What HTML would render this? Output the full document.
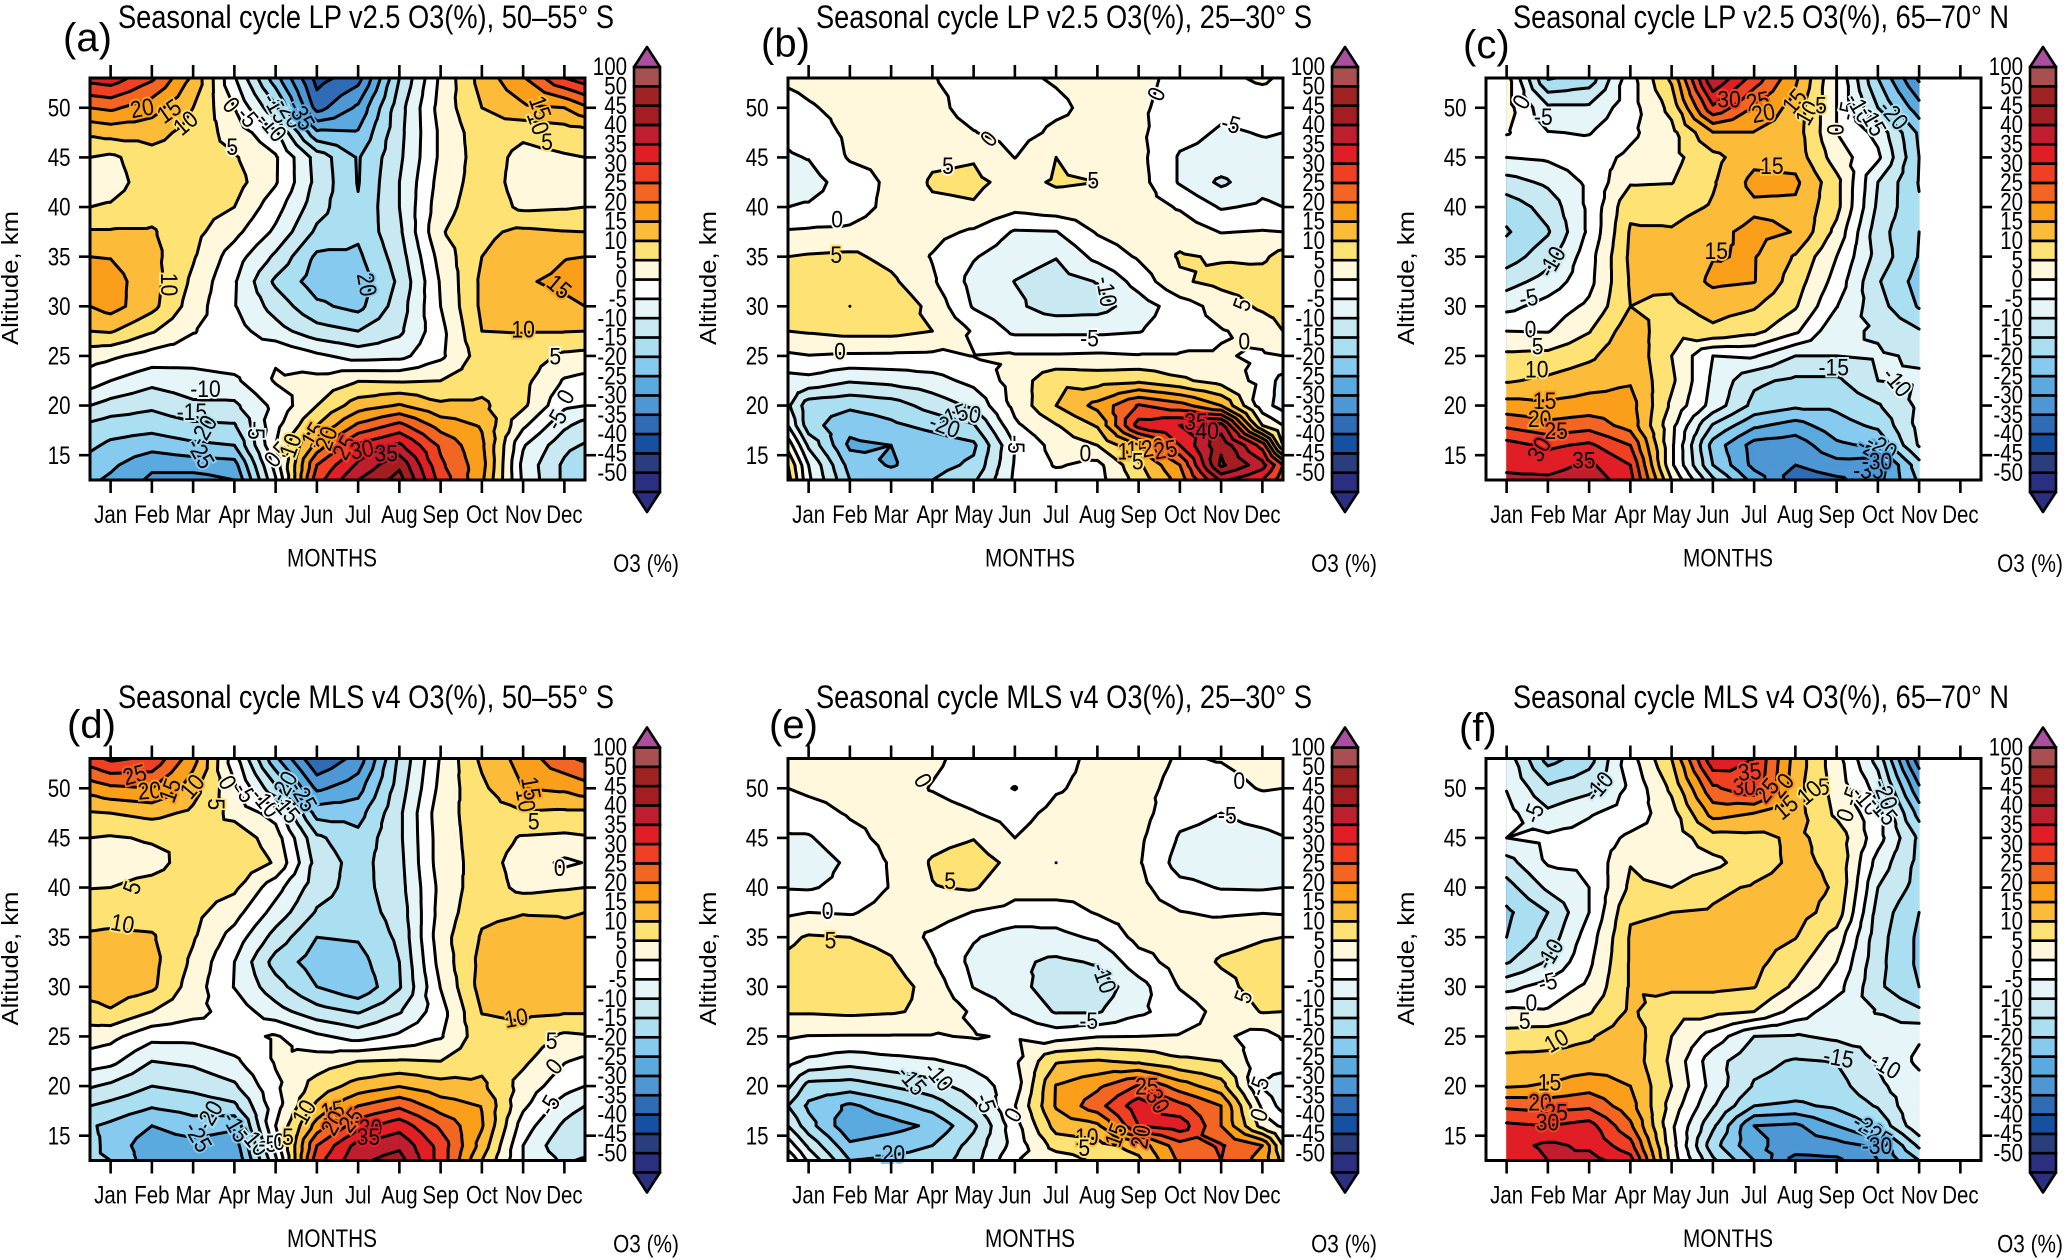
<!DOCTYPE html>
<html lang="en">
<head>
<meta charset="utf-8">
<title>Seasonal cycle of O3 anomalies</title>
<style>
html,body{margin:0;padding:0;background:#fff;}
svg{display:block;}
text{font-family:"Liberation Sans",sans-serif;fill:#000;}
</style>
</head>
<body>
<svg id="figure" xmlns="http://www.w3.org/2000/svg" width="2067" height="1260" viewBox="0 0 2067 1260">
<rect x="0" y="0" width="2067" height="1260" fill="#fff"/>
</svg>
<script>
const altitudes = [53,50,47.5,45,42.5,40,37.5,35,32.5,30,27.5,25,22.5,20,18,16,14,12.5];
const fullMonths = [0.5,1,2,3,4,5,6,7,8,9,10,11,12,12.5];
const partMonths = [1,2,3,4,5,6,7,8,9,10,11];
const monthLabels = ['Jan','Feb','Mar','Apr','May','Jun','Jul','Aug','Sep','Oct','Nov','Dec'];
const altitudeTicks = [15,20,25,30,35,40,45,50];
const bandLevels = [-50,-45,-40,-35,-30,-25,-20,-15,-10,-5,0,5,10,15,20,25,30,35,40,45,50];
const bandColors = ['#2b2f7f','#2a3d7c','#1650a0','#2f6cb5','#4d97d4','#5aaae0','#86caf0','#aadff2','#c9e9f2','#e6f5f7','#ffffff','#fff8dd','#fee273','#fdbb3a','#fb9e1a','#f36523','#ef4024','#e11e26','#be1e2d','#a31d21','#a02323','#a84f52'];
const colorbarLabels = ['100','50','45','40','35','30','25','20','15','10','5','0','-5','-10','-15','-20','-25','-30','-35','-40','-45','-50'];

/* each inner array is one month's altitude profile, O3 in %, from 53 km down to 12.5 km */
const lpSouth50 = [
[32,20,11,5,3,5,10.5,15,17,15,10,2,-2.5,-10,-16,-19,-22,-24],
[33,21,12,4,3,5.5,10.5,14.8,17,17,10.5,1,-5,-12,-17.5,-21,-24,-26],
[26,17,12,8,7.5,8,10.5,11.5,12,11.5,5.5,-2,-8.5,-14,-18,-23,-29,-31],
[14,10,8,7,7,7,6.5,5.5,4,2.5,0.3,-3,-7,-11,-16,-21,-28,-32],
[-4.5,0,3,5.5,7,5,1.5,-2.5,-4.5,-4.7,-3,-2,-6,-11,-15.5,-20,-27,-30],
[-23,-14,-4,0.6,0.5,-3,-6,-11,-16,-12,-8,-0.5,0.5,-3.5,-1.5,0,-3,-5.5],
[-42,-37,-24,-12,-11.5,-13,-16,-21,-22.5,-19,-13,-4,1.5,5,10,17,25,28],
[-37,-29,-24.5,-20.5,-20.3,-19.5,-19,-21,-23,-21.5,-15,-7,4.8,12.5,21,31,36,40],
[-15,-12,-11.5,-11,-10,-10,-11,-12.5,-14,-12.5,-11,-6.5,4.5,15.5,26.5,36,44,47],
[1,2,1,1,2,3,4.5,2,0.5,0,-1.5,-1,5,11,18,24,26,28],
[12,10,8,7.5,7.5,8,9,10,11,11,10,7.5,8,11,14.5,16,17,16],
[19.5,14,6,3.5,3,4,11,12.5,14.5,13,10.2,8,6.5,6,1,-4.5,-6.5,-6],
[30,15,7.5,4.5,3,4.5,10.2,14.8,16,14,10.2,4,-0.5,-4,-9,-13.5,-16,-16],
[33,19,8,5,3.5,5,10,15,17,15,10,3.5,-1.5,-5,-12,-15.5,-20,-20]
];
const lpSouth25 = [
[1,-2,-4,-5.5,-6.5,-5,0.5,5,7,7.5,5,-0.8,-7,-9,-5,3,10,12],
[1.5,-0.5,-2.5,-4.8,-7,-4.5,0.8,5.5,7.5,9.5,5.5,-0.2,-6.5,-18,-18,-11,-5,-4],
[3,1.5,1,0.5,-2.5,-2.5,1,6,8.5,10,6.5,-0.7,-9.5,-19,-23.5,-26,-22,-20],
[3,2.5,0.1,1,1,1.5,3,3.5,6,9,6.5,-0.8,-8.5,-17.5,-21,-25,-25.5,-22],
[0.2,1.5,2.5,4.1,5.6,4.05,1.5,-0.3,0.7,3.5,5,-1,-7,-13,-18.5,-23,-22,-20],
[-1.5,-2,0.2,4.65,6,4.57,-0.7,-4.6,-6.7,-5.5,-0.5,0.1,-3.5,-9,-15.5,-21,-19,-16],
[-1,-2.5,-2,-0.1,3.5,1.5,-5.5,-8,-10.1,-9,-6,0.5,2,1.5,-1,-5,-4.5,-4],
[0.5,-1,1,5,5.5,3,-5.2,-9.8,-12,-12.5,-6,0.5,9,10,4.7,2,0.5,-2.5],
[2,1.5,1.5,3,5,3,0.5,-3.5,-9.8,-12,-6,0.8,8,16.5,10.5,5,-1.5,-2],
[1.5,0.8,1,1.5,2,2.5,3,0.6,-3,-7.5,-5.3,0.3,9,25.5,32,15,9,7],
[-1.5,-2,-3.5,-5.5,-5.5,-0.5,3,5.5,4.3,-2.5,-2,0.3,6,22,35,30,20,17],
[-1.5,-4,-5.5,-6.5,-11,-5.5,-0.2,4.5,6.5,2,-0.3,0.3,3,15,37,44,46,36],
[1,-3.5,-4.8,-6,-6.5,-4.2,0.3,4,7.5,6,1.5,-0.5,-1.5,-3,5,28,37,30],
[-1,-3,-5,-5.5,-7,-5,0,7,8,7,5,0,-7,-7,0,5,25,22]
];
const lpNorth65 = [
[2,2,0.5,-5,-12,-18,-20.5,-17.5,-12,-6.5,0,6,9.5,17,24,32,34,36],
[-20.5,-9,-4.8,-4.2,-9,-13,-15.5,-12,-8,-3,-0.3,6.5,11,16,21.5,29,33,36],
[-18,-9,-5.3,-2,-4,-4,-4,-2,-1.5,1,4.7,9,13,17,23,31,36,38],
[-2,-2,-1,1,4.5,9,10.5,11,10.5,10,13,14,14.5,17,18,25,30,32],
[11,6.5,3.5,3.5,4.8,8,10.5,11,11,9,6.5,5,6,4,1.5,1,1,5],
[40,29,14.8,8.5,9.5,10.5,13.5,14.8,16,12,9,-5,-6,-7,-15.5,-22,-20,-14],
[28,19.5,14.8,13.5,16.5,14,16.5,15.3,15.2,10.5,6.5,-4.5,-14,-16.5,-24,-32,-31.5,-27],
[16,13,12.5,13,16,14,14.8,9.5,7.5,5.5,1,-10,-16,-19,-27,-33,-35,-38],
[0,0,0,2.5,6.5,6.5,3.5,0,-2,-4.8,-9,-10,-16,-19,-22,-26,-32,-36],
[-20,-15,-6.5,-4,-10,-11,-13,-12,-14.5,-13,-10.5,-9.5,-10,-15.5,-19,-24,-33,-32],
[-36,-28,-21,-20,-20.3,-19.5,-20,-20.3,-22,-20.5,-14.5,-10.5,-9.5,-9,-8.5,-9.5,-17,-19]
];
const mlsSouth50 = [
[28,17,9.5,5,3,4.8,8.5,10.5,13,12.5,8,2.5,-2.5,-9.5,-15,-19.5,-18,-20],
[31,19,10,4.5,3,5,8.5,10.8,13,12.8,9.5,1.5,-3.5,-11,-16.5,-21,-22,-20],
[29,20,11.5,5.5,3.5,6.5,8,10.5,11.5,11,5,-3.5,-10,-15,-19.5,-25,-28,-28],
[17,12,9,5.2,7,7.5,6.5,5.5,4,2.5,1.5,-3.5,-9,-13.5,-18,-22,-27,-28],
[-3,1,3.5,8,9,6,2,-2,-5,-5.2,-2,-1.5,-6,-10.8,-16,-24,-28,-30],
[-24,-14,-2,2.5,4.5,-3,-7,-12,-17,-13,-8,0.5,0.5,-1,-2,0,-3,-6],
[-40,-31,-22,-14,-12,-13,-15.5,-20,-22.5,-20,-13,-4,2.5,7,11,17,25,28],
[-33,-27,-22,-18.5,-17,-17,-17.5,-19.5,-22,-24,-15.5,-7,5,12,20,28,37,39],
[-14,-12.5,-11,-11,-11.5,-12,-13,-14,-15,-15.5,-10.5,-4,5.5,14.8,24,33,39,42],
[0.5,1.5,3,2.5,2.5,1.5,2,3,2,0.2,-2,-0.5,5,12,17.5,24,28,28],
[11,9,7.5,7.5,7,8,9,10.5,11.5,12,10.2,8,8.5,11,14.8,15.5,13,10],
[17,15,9.5,4.5,3,3.5,9.8,12,13,12.5,11,8.5,6,3,1,-2.5,-5,-5],
[24,16,9,4,-1,4.5,9.7,11,13,13,10.5,4,0.3,-3,-7.5,-11,-14,-11],
[26,18,9,4.5,0.2,5,10,11,13,13,10.5,4.5,-1,-5,-10,-14,-14,-9]
];
const mlsSouth25 = [
[1.5,0,-3,-5.5,-7,-5.3,-0.8,4,6,7,5.5,0.5,-3.5,-9,-15,-10,-2,5],
[2,1,-2,-5.5,-8,-5.5,0,5.5,7,7.5,5.5,-0.2,-6,-17,-21,-18,-11,-6],
[2.5,2,0.5,-1.5,-4,-3.5,-0.5,5,7.5,8,6,-0.3,-8,-17.5,-26,-29,-24,-20],
[3,2.5,1.5,1.5,0.5,0.3,2,3.5,5.5,7.5,5.5,-0.3,-6.5,-14.8,-22,-27,-22,-19],
[1,-0.3,2,3.5,5.5,4.8,2.5,-1,0.5,3,4,-0.3,-5.5,-12,-18,-24,-20,-18],
[-2,-2.5,0.3,4.8,7.5,5.5,-0.2,-4.5,-6.5,-5.2,-0.8,0.3,-3.5,-7.5,-11,-16,-13,-12],
[-2,-5.2,-2,0,3.5,1.5,-1.5,-7.5,-9,-8,-5.5,-0.5,-1,-2.5,-0.2,-2,-3,-0.5],
[-2,-0.5,1.5,3,5,2.5,-2.5,-6.5,-11,-13,-10.5,-2,9.5,15.3,15.5,12,7,2],
[1.5,1.5,2,2.5,3,1.5,0.4,-4.2,-9.5,-13,-10.5,-0.2,10.5,19,23,14,8,6],
[2,1.5,2,1,0.5,1.5,2,1.5,-2,-7,-6,0,9,25.5,33,30,12,9],
[-0.5,-1.5,-3.5,-5.5,-7,-3.5,0.2,2,2,0.3,-2.5,0.3,6,17.5,26.5,33,23,21],
[0.3,-2,-5,-6.5,-7.5,-5.3,-0.8,3.5,5.5,3.5,1.5,1,5,12,20,20,25.5,25],
[2,0.4,-3.5,-6,-8,-5.5,-0.2,4.7,6.5,7,5.3,-2,-3,-5.5,-1,3,20,18],
[1.5,0,-3,-5.2,-7,-5,-0.5,5,7,7,5,0.5,-2.5,-8,-7,-1,5,8]
];
const mlsNorth65 = [
[-7,-5.2,-3.5,-5,-12,-17,-21,-20,-15.5,-6.5,1,7,11.5,14.5,24,31,33,31],
[-22,-14,-9,-4,-4.5,-9,-15,-13,-9.5,-3,0.5,8,11.5,15.5,23,30,36,35],
[-17,-11.5,-5.5,-3,-4,-5,-5,-2.5,-1,1,4.5,9.5,12,18,24,32,34,37],
[-2,-4,-3,1,4.8,6,9.5,10.5,10.5,10.5,10.8,13,13,15,17,21,27,32],
[10,6,3,2,2,5,10,11,11,11,6.5,5,4,5,3,1,2,3],
[34,24,17,8,3.5,9,10.5,11,11,11,6.5,-2,-8,-7,-9.5,-14,-18,-14],
[30,29,15,8.5,8,10.5,12,12,11.5,10.2,5,-10,-13.5,-15.5,-20,-30,-29,-25],
[13,12,12,11,11,12,12,10.2,7,4,-2,-10.5,-15.5,-17,-21,-31,-32,-37],
[2,3,4,8,9,9.5,8,3,0,-3,-8,-9,-14.8,-17,-19,-25,-32,-36],
[-12,-7,-3,-3,-7,-10,-12,-13,-13.5,-14,-10.2,-8,-9.5,-11,-14.5,-19,-29,-30],
[-38,-29,-22,-16,-16.5,-17,-20,-21,-21,-20,-14,-5.5,-4,-6.8,-5.2,-6,-14,-20]
];

/* contour annotations: month position, altitude km, printed value, text angle */
const labelsA = [[1.76,50,'20',-10],[2.41,49.7,'15',-35],[2.81,48.5,'10',-40],[3.93,50.3,'0',50],[4.33,49.1,'-5',50],[4.92,48.1,'-10',50],[5.03,50,'-15',60],[5.35,49.5,'-20',60],[5.63,49.3,'-35',60],[3.95,46.1,'5',0],[2.43,32.2,'10',90],[7.22,32.2,'20',80],[11.88,32,'15',40],[11,27.7,'10',0],[11.78,25,'5',0],[12.02,20.9,'0',-60],[11.8,18.6,'-5',-60],[11.58,46.6,'5',0],[11.37,48.5,'10',70],[11.42,50,'15',70],[3.3,21.7,'-10',0],[2.97,19.4,'-15',0],[3.24,17.5,'-20',-60],[3.19,15.2,'-25',60],[4.54,17.5,'-5',90],[4.92,14.6,'0',-50],[5.14,15.6,'5',-50],[5.35,16,'10',-70],[5.9,17.1,'15',-60],[6.22,16.7,'20',-70],[6.66,15.8,'25',-60],[7.09,15.6,'30',-10],[7.68,15.2,'35',0]];
const labelsB = [[9.42,51.4,'0',-65],[5.36,46.9,'0',-50],[11.24,48.4,'-5',15],[4.38,44.2,'5',0],[7.9,42.7,'5',0],[1.69,38.8,'0',0],[1.67,35.2,'5',0],[8.23,31.5,'-10',80],[7.81,26.8,'-5',0],[11.5,30.2,'5',-70],[11.56,26.5,'0',0],[1.76,25.5,'0',0],[4.81,19.3,'-10',10],[4.49,19,'-15',-20],[4.3,18,'-20',20],[6.04,16.1,'-5',90],[7.71,15.2,'0',0],[8.77,15.4,'10',0],[8.98,15.6,'15',0],[9.35,15.8,'20',-10],[9.65,15.6,'25',-10],[10.39,18.4,'35',0],[10.66,17.5,'40',0],[8.98,14.4,'5',0]];
const labelsC = [[1.35,50.6,'0',-60],[1.89,49.1,'-5',0],[6.39,50.9,'30',0],[7.09,50.7,'25',-10],[7.22,49.5,'20',-10],[7.97,50.7,'15',-50],[8.28,49.5,'10',-60],[8.62,50.3,'5',0],[8.97,47.8,'0',90],[9.26,49.7,'-5',-80],[9.57,50,'-10',60],[9.88,48.7,'-15',60],[10.39,49.3,'-20',50],[7.43,44.2,'15',0],[6.08,35.6,'15',0],[2.09,34.5,'-10',-60],[1.53,30.9,'-5',-10],[1.58,27.7,'0',0],[1.75,26,'5',0],[1.73,23.7,'10',0],[1.92,20.5,'15',0],[1.8,18.7,'20',0],[2.2,17.5,'25',0],[1.78,15.6,'30',-60],[2.87,14.5,'35',0],[8.93,23.9,'-15',0],[10.47,22.4,'-10',50],[9.88,15.6,'-25',30],[10.1,15.9,'-20',30],[9.77,13.5,'-35',0],[9.98,14.4,'-30',0]];
const labelsD = [[1.58,51.4,'25',-15],[1.94,49.8,'20',-5],[2.43,49.8,'15',-70],[2.97,50.2,'10',-50],[3.57,48.4,'5',90],[3.84,50.6,'0',60],[4.27,49.6,'-5',60],[4.76,48.6,'-10',50],[5.25,48,'-15',50],[5.19,50.2,'-20',-60],[5.68,49.2,'-25',60],[1.51,40,'5',-70],[1.29,36.4,'10',10],[11.26,46.7,'5',0],[11.07,48.8,'10',80],[11.2,50,'15',80],[11.89,42,'0',0],[10.83,26.9,'10',-10],[11.69,24.6,'5',0],[11.74,22,'0',-50],[11.63,18.1,'-5',-60],[3.38,17,'-20',-60],[3.13,14.9,'-25',60],[4.05,15.9,'-15',60],[4.49,14.5,'-10',50],[4.81,14.2,'-5',0],[5.09,14.4,'0',0],[5.3,14.9,'5',0],[5.68,17.4,'10',-60],[6.38,17.6,'15',-10],[6.38,16.3,'20',-60],[6.82,16.6,'25',-50],[7.3,15.8,'30',0],[7.25,14.9,'35',0]];
const labelsE = [[3.78,50.8,'0',60],[11.44,50.8,'0',0],[11.15,47.3,'-5',0],[1.46,37.7,'0',0],[1.53,34.7,'5',0],[4.43,40.7,'5',0],[8.17,30.9,'-10',70],[7.79,26.6,'-5',0],[11.53,29,'5',-70],[4.16,21,'-10',50],[3.51,20.6,'-15',50],[2.97,13.2,'-20',0],[5.3,18.3,'-5',70],[5.95,17.1,'0',-60],[11.91,20,'-5',-70],[11.91,17.1,'0',-70],[7.74,14.9,'10',0],[7.68,13.8,'5',0],[8.44,15.1,'15',-70],[9.04,14.9,'20',-80],[9.2,20,'25',0],[9.47,18.5,'30',60]];
const labelsF = [[1.65,47.5,'-5',-70],[3.23,50.2,'-10',-50],[9.2,47.3,'0',-70],[8.69,50.2,'5',0],[8.33,49.6,'10',-40],[7.76,48.1,'15',-40],[7.66,50.3,'20',-50],[7.3,49.8,'25',-50],[6.76,50.2,'30',0],[6.89,51.7,'35',-5],[9.36,49.2,'-5',-70],[9.72,48.8,'-10',50],[10.13,47.8,'-15',50],[10.19,49.4,'-20',70],[2.04,33.3,'-10',-60],[1.99,30.5,'-5',-15],[1.6,28.4,'0',0],[1.44,26.6,'5',0],[2.2,24.6,'10',-30],[2.04,20.4,'15',0],[1.81,18.4,'20',0],[2.2,17.4,'25',0],[1.99,16.4,'30',0],[9.05,22.9,'-15',10],[10.19,22.1,'-10',30],[9.77,15.9,'-20',30],[9.98,15.1,'-25',30],[9.98,14,'-30',0]];

const SVGNS = 'http://www.w3.org/2000/svg';
const figure = document.getElementById('figure');
function mk(tag, attrs, parent, txt) {
  const n = document.createElementNS(SVGNS, tag);
  for (const k in attrs) n.setAttribute(k, attrs[k]);
  if (txt !== undefined) n.textContent = txt;
  parent.appendChild(n);
  return n;
}
const PLOT_W = 495, PLOT_H = 402, ALT_TOP = 53, ALT_BOTTOM = 12.5;
const panels = [
  {letter:'(a)', title:'Seasonal cycle LP v2.5 O3(%), 50–55° S', x0:90, y0:78, tx:118, ty:28, lx:63, ly:51, months:fullMonths, field:lpSouth50, labels:labelsA, cbx:646},
  {letter:'(b)', title:'Seasonal cycle LP v2.5 O3(%), 25–30° S', x0:788, y0:78, tx:816, ty:28, lx:761, ly:56.5, months:fullMonths, field:lpSouth25, labels:labelsB, cbx:1344},
  {letter:'(c)', title:'Seasonal cycle LP v2.5 O3(%), 65–70° N', x0:1486, y0:78, tx:1513, ty:28, lx:1463, ly:58, months:partMonths, field:lpNorth65, labels:labelsC, cbx:2030},
  {letter:'(d)', title:'Seasonal cycle MLS v4 O3(%), 50–55° S', x0:90, y0:758.5, tx:118, ty:708, lx:67, ly:738, months:fullMonths, field:mlsSouth50, labels:labelsD, cbx:646},
  {letter:'(e)', title:'Seasonal cycle MLS v4 O3(%), 25–30° S', x0:788, y0:758.5, tx:816, ty:708, lx:769, ly:738, months:fullMonths, field:mlsSouth25, labels:labelsE, cbx:1344},
  {letter:'(f)', title:'Seasonal cycle MLS v4 O3(%), 65–70° N', x0:1486, y0:758.5, tx:1513, ty:708, lx:1459, ly:741, months:partMonths, field:mlsNorth65, labels:labelsF, cbx:2030}
];

function clipTriangle(tri, L) {
  const out = [];
  for (let i = 0; i < 3; i++) {
    const a = tri[i], b = tri[(i + 1) % 3];
    const ai = a[2] >= L, bi = b[2] >= L;
    if (ai) out.push(a);
    if (ai !== bi) {
      const t = (L - a[2]) / (b[2] - a[2]);
      out.push([a[0] + t * (b[0] - a[0]), a[1] + t * (b[1] - a[1]), L]);
    }
  }
  return out;
}
function polyPath(pts) {
  let s = 'M' + pts[0][0].toFixed(1) + ' ' + pts[0][1].toFixed(1);
  for (let i = 1; i < pts.length; i++) s += 'L' + pts[i][0].toFixed(1) + ' ' + pts[i][1].toFixed(1);
  return s + 'Z';
}
function buildTriangles(months, field, xs, ys) {
  const tris = [];
  for (let c = 0; c < months.length - 1; c++) {
    for (let r = 0; r < altitudes.length - 1; r++) {
      const A = [xs(months[c]), ys(altitudes[r]), field[c][r]];
      const B = [xs(months[c + 1]), ys(altitudes[r]), field[c + 1][r]];
      const C = [xs(months[c + 1]), ys(altitudes[r + 1]), field[c + 1][r + 1]];
      const D = [xs(months[c]), ys(altitudes[r + 1]), field[c][r + 1]];
      const M = [(A[0] + B[0]) / 2, (A[1] + D[1]) / 2, (A[2] + B[2] + C[2] + D[2]) / 4];
      tris.push([A, B, M], [B, C, M], [C, D, M], [D, A, M]);
    }
  }
  return tris;
}
function valueAt(months, field, m, alt) {
  let c = 0, r = 0;
  while (c < months.length - 2 && months[c + 1] < m) c++;
  while (r < altitudes.length - 2 && altitudes[r + 1] > alt) r++;
  const u = Math.min(1, Math.max(0, (m - months[c]) / (months[c + 1] - months[c])));
  const v = Math.min(1, Math.max(0, (altitudes[r] - alt) / (altitudes[r] - altitudes[r + 1])));
  const top = field[c][r] * (1 - u) + field[c + 1][r] * u;
  const bot = field[c][r + 1] * (1 - u) + field[c + 1][r + 1] * u;
  return top * (1 - v) + bot * v;
}
function bandColor(val) {
  let i = 0;
  while (i < bandLevels.length && val >= bandLevels[i]) i++;
  return bandColors[i];
}

panels.forEach(function (p, pi) {
  const xs = function (m) { return p.x0 + (m - 0.5) * PLOT_W / 12; };
  const ys = function (a) { return p.y0 + (ALT_TOP - a) * PLOT_H / (ALT_TOP - ALT_BOTTOM); };
  const bottom = p.y0 + PLOT_H, right = p.x0 + PLOT_W;
  const dx = p.x0 - 90, dy = p.y0 - 78;

  const g = mk('g', {}, figure);
  
  

  const title = mk('text', {x:p.tx, y:p.ty, 'font-size':32, textLength:496, lengthAdjust:'spacingAndGlyphs'}, g, p.title);
  
  
  const letter = mk('text', {x:p.lx, y:p.ly, 'font-size':40}, g, p.letter);
  
  

  const tris = buildTriangles(p.months, p.field, xs, ys);
  const fills = mk('g', {}, g);
  
  
  const base = mk('rect', {x:xs(p.months[0]), y:p.y0, width:xs(p.months[p.months.length - 1]) - xs(p.months[0]), height:PLOT_H, fill:bandColors[0]}, fills);
  
  
  bandLevels.forEach(function (L, li) {
    let d = '';
    for (const t of tris) {
      if (Math.max(t[0][2], t[1][2], t[2][2]) < L) continue;
      const poly = clipTriangle(t, L);
      if (poly.length > 2) d += polyPath(poly);
    }
    if (!d) return;
    const band = mk('path', {d:d, fill:bandColors[li + 1], stroke:bandColors[li + 1], 'stroke-width':0.4}, fills);
    
    
  });

  const lines = mk('g', {fill:'none', stroke:'#000', 'stroke-width':3, 'stroke-linecap':'round', 'stroke-linejoin':'round'}, g);
  
  
  bandLevels.forEach(function (L) {
    let d = '';
    for (const t of tris) {
      const pts = [];
      for (let i = 0; i < 3; i++) {
        const a = t[i], b = t[(i + 1) % 3];
        if ((a[2] >= L) !== (b[2] >= L)) {
          const u = (L - a[2]) / (b[2] - a[2]);
          pts.push([a[0] + u * (b[0] - a[0]), a[1] + u * (b[1] - a[1])]);
        }
      }
      if (pts.length === 2) d += 'M' + pts[0][0].toFixed(1) + ' ' + pts[0][1].toFixed(1) + 'L' + pts[1][0].toFixed(1) + ' ' + pts[1][1].toFixed(1);
    }
    if (!d) return;
    const line = mk('path', {d:d}, lines);
    
    
  });

  const labelGroup = mk('g', {}, g);
  
  
  p.labels.forEach(function (lab) {
    const halo = bandColor(valueAt(p.months, p.field, lab[0], lab[1]));
    const tx = xs(lab[0]), ty = ys(lab[1]);
    const t = mk('text', {'font-size':24, 'text-anchor':'middle', y:8.5, stroke:halo, 'stroke-width':4, 'paint-order':'stroke', transform:'translate(' + tx.toFixed(1) + ' ' + ty.toFixed(1) + ') rotate(' + lab[3] + ') scale(0.88 1)'}, labelGroup, lab[2]);
    
    
  });

  const box = mk('rect', {x:p.x0, y:p.y0, width:PLOT_W, height:PLOT_H, fill:'none', stroke:'#000', 'stroke-width':3}, g);
  
  

  monthLabels.forEach(function (name, i) {
    const x = xs(i + 1);
    const tickB = mk('line', {x1:x, x2:x, y1:bottom, y2:bottom + 13, stroke:'#000', 'stroke-width':2.6}, g);
    
    
    const tickT = mk('line', {x1:x, x2:x, y1:p.y0, y2:p.y0 - 13, stroke:'#000', 'stroke-width':2.6}, g);
    
    
    const lbl = mk('text', {'font-size':25, 'text-anchor':'middle', transform:'translate(' + x + ' ' + (bottom + 43) + ') scale(0.818 1)'}, g, name);
    
    
  });
  altitudeTicks.forEach(function (a) {
    const y = ys(a);
    const tickL = mk('line', {x1:p.x0, x2:p.x0 - 11, y1:y, y2:y, stroke:'#000', 'stroke-width':2.6}, g);
    
    
    const tickR = mk('line', {x1:right, x2:right + 11, y1:y, y2:y, stroke:'#000', 'stroke-width':2.6}, g);
    
    
    const lbl = mk('text', {'font-size':25, 'text-anchor':'end', transform:'translate(' + (p.x0 - 19.5) + ' ' + (y + 8.6) + ') scale(0.82 1)'}, g, String(a));
    
    
  });

  const xt = mk('text', {'font-size':25, 'text-anchor':'middle', transform:'translate(' + (332 + dx) + ' ' + (566.5 + dy) + ') scale(0.83 1)'}, g, 'MONTHS');
  
  
  const yt = mk('text', {'font-size':23, 'text-anchor':'middle', textLength:134, lengthAdjust:'spacingAndGlyphs', transform:'translate(' + (18 + dx) + ' ' + (278 + dy) + ') rotate(-90)'}, g, 'Altitude, km');
  
  
  const cbt = mk('text', {'font-size':25, 'text-anchor':'middle', transform:'translate(' + p.cbx + ' ' + (572 + dy) + ') scale(0.83 1)'}, g, 'O3 (%)');
  
  

  const cb = mk('g', {}, g);
  
  
  const cx0 = 634 + dx, cw = 26, cTop = 67 + dy, cStep = 425 / 22;
  const nBoxes = bandColors.length;
  bandColors.forEach(function (col, i) {
    const yy = cTop + (nBoxes - 1 - i) * cStep;
    const r = mk('rect', {x:cx0, y:yy, width:cw, height:cStep, fill:col, stroke:'#000', 'stroke-width':2.6}, cb);
    
    
  });
  const upper = mk('polygon', {points:cx0 + ',' + cTop + ' ' + (cx0 + cw) + ',' + cTop + ' ' + (cx0 + cw / 2) + ',' + (cTop - 20), fill:'#ab4e9e', stroke:'#000', 'stroke-width':2.6, 'stroke-linejoin':'round'}, cb);
  
  
  const cBot = cTop + nBoxes * cStep;
  const lower = mk('polygon', {points:cx0 + ',' + cBot + ' ' + (cx0 + cw) + ',' + cBot + ' ' + (cx0 + cw / 2) + ',' + (cBot + 20), fill:'#2b2f7f', stroke:'#000', 'stroke-width':2.6, 'stroke-linejoin':'round'}, cb);
  
  
  colorbarLabels.forEach(function (s, i) {
    const t = mk('text', {'font-size':25, 'text-anchor':'end', transform:'translate(' + (627 + dx) + ' ' + (cTop + i * cStep + 8.2) + ') scale(0.82 1)'}, cb, s);
    
    
  });
});
</script>
</body>
</html>
